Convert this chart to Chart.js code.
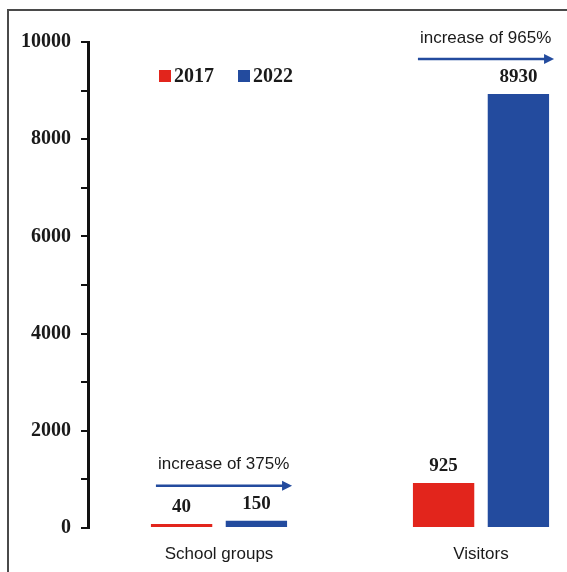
<!DOCTYPE html>
<html>
<head>
<meta charset="utf-8">
<script src="https://cdn.jsdelivr.net/npm/chart.js@4.4.1/dist/chart.umd.min.js"></script>
<style>
  html, body { margin: 0; padding: 0; width: 567px; height: 572px; overflow: hidden; background: #fff; }
  #frame { position: absolute; left: 7px; top: 9px; width: 800px; height: 800px; border: 2px solid #4a4a4a; }
  #wrap { position: absolute; left: 0; top: 0; width: 620px; height: 572px; }
  #legend { position: absolute; left: 159px; top: 64px; display: flex; gap: 24px;
            font: bold 20px "Liberation Serif", "Times New Roman", serif; color: #1a1a1a; }
  #legend span.item { display: flex; align-items: center; }
  #legend i { display: inline-block; width: 12px; height: 12px; margin-right: 3px; }
</style>
</head>
<body>
<div id="frame"></div>
<div id="wrap"><canvas id="c" width="620" height="572"></canvas></div>
<div id="legend"></div>
<script>
const $ = id => document.getElementById(id);

// ─── Data ────────────────────────────────────────────────────────────────
const categories = ['School groups', 'Visitors'];
const years = ['2017', '2022'];
const values2017 = [40, 925];
const values2022 = [150, 8930];
const increaseLabels = ['increase of 375%', 'increase of 965%'];
const yLabelledStep = 2000;   // only every other tick gets a label

const RED = '#e2251c';
const BLUE = '#234b9e';
const serif = '"Liberation Serif", "Times New Roman", serif';
const sans = '"Liberation Sans", Arial, sans-serif';

// value labels + "increase of" arrows on top of each pair
const annotate = {
  id: 'annotate',
  afterDatasetsDraw(chart) {
    const ctx = chart.ctx;
    const reds = chart.getDatasetMeta(0).data;
    const blues = chart.getDatasetMeta(1).data;
    ctx.save();
    ctx.textAlign = 'center';
    ctx.textBaseline = 'middle';
    ctx.fillStyle = '#1a1a1a';
    ctx.font = 'bold 19px ' + serif;
    [values2017, values2022].forEach((vals, d) => {
      chart.getDatasetMeta(d).data.forEach((bar, i) => {
        ctx.fillText(String(vals[i]), bar.x, bar.y - 17);
      });
    });
    categories.forEach((_, i) => {
      const r = reds[i], b = blues[i];
      const left = r.x - r.width / 2;
      const right = b.x + b.width / 2;
      const ay = Math.min(r.y, b.y) - 35;
      ctx.strokeStyle = BLUE;
      ctx.fillStyle = BLUE;
      ctx.lineWidth = 2.5;
      ctx.beginPath();
      ctx.moveTo(left + 5, ay);
      ctx.lineTo(right - 2, ay);
      ctx.stroke();
      ctx.beginPath();
      ctx.moveTo(right + 5, ay);
      ctx.lineTo(right - 5, ay - 5);
      ctx.lineTo(right - 5, ay + 5);
      ctx.closePath();
      ctx.fill();
      ctx.fillStyle = '#1a1a1a';
      ctx.font = '17px ' + sans;
      ctx.textAlign = 'left';
      ctx.fillText(increaseLabels[i], left + 7, ay - 21);
      ctx.textAlign = 'center';
    });
    ctx.restore();
  }
};

const chart = new Chart($('c'), {
  type: 'bar',
  data: {
    labels: categories,
    datasets: [
      { label: years[0], data: values2017, backgroundColor: RED },
      { label: years[1], data: values2022, backgroundColor: BLUE },
    ],
  },
  options: {
    responsive: false,
    animation: false,
    events: [],
    layout: { padding: { top: 42, right: 8, bottom: 0, left: 0 } },
    datasets: { bar: { categoryPercentage: 0.571, barPercentage: 0.82, minBarLength: 4 } },
    scales: {
      x: {
        afterFit: s => { s.height = 44; },
        grid: { display: false, drawTicks: false },
        border: { display: false },
        ticks: { color: '#1a1a1a', font: { family: sans, size: 17 }, padding: 16 },
      },
      y: {
        min: 0, max: 10000,
        afterFit: s => { s.width = 88; },
        grid: { drawOnChartArea: false, drawTicks: true, tickLength: 7, color: '#111', lineWidth: 2 },
        border: { display: true, color: '#111', width: 3 },
        ticks: {
          stepSize: 1000,
          padding: 10,
          color: '#1a1a1a',
          font: { family: serif, size: 20, weight: 'bold' },
          callback: v => v % yLabelledStep === 0 ? v : '',
        },
      },
    },
    plugins: { legend: { display: false }, tooltip: { enabled: false } },
  },
  plugins: [annotate],
});

// ─── Legend ──────────────────────────────────────────────────────────────
$('legend').innerHTML = chart.data.datasets
  .map(ds => `<span class="item"><i style="background:${ds.backgroundColor}"></i>${ds.label}</span>`)
  .join('');
</script>
</body>
</html>
